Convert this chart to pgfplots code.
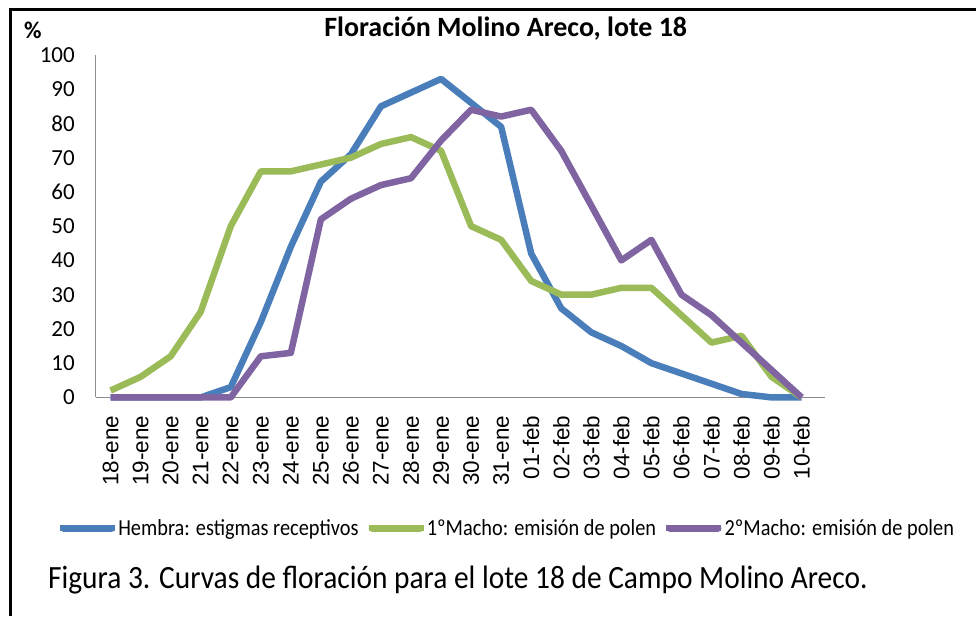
\documentclass[border=0pt]{standalone}
\usepackage{fontspec}
\setmainfont{Carlito}
\newfontfamily\arialfont{Liberation Sans}
\newfontfamily\condfont[FakeStretch=0.885]{Carlito}
\newfontfamily\capfont[FakeStretch=0.906]{Carlito}
\usepackage{pgfplots}
\pgfplotsset{compat=1.18}
\definecolor{cblue}{RGB}{74,126,187}
\definecolor{cgreen}{RGB}{155,187,89}
\definecolor{cpurple}{RGB}{128,100,162}
\definecolor{axgray}{RGB}{140,140,140}
\pgfplotstableread{
x hembra macho1 macho2
0 0 2 0
1 0 6 0
2 0 12 0
3 0 25 0
4 3 50 0
5 22 66 12
6 44 66 13
7 63 68 52
8 71 70 58
9 85 74 62
10 89 76 64
11 93 72 75
12 86 50 84
13 79 46 82
14 42 34 84
15 26 30 72
16 19 30 56
17 15 32 40
18 10 32 46
19 7 24 30
20 4 16 24
21 1 18 16
22 0 6 8
23 0 0 0
}\datatable
\begin{document}
\begin{tikzpicture}
\fill[white] (0pt,-617pt) rectangle (977pt,0pt);
\draw[line width=3pt, black] (10.6pt,-617pt) -- (10.6pt,-10pt) -- (977pt,-10pt);
\begin{axis}[
  at={(95.7pt,-398pt)}, anchor=south west,
  scale only axis, width=730.3pt, height=343pt,
  xmin=-0.5, xmax=23.77, ymin=0, ymax=100,
  clip=false,
  axis lines=left,
  axis line style={draw=axgray, line width=1pt, -},
  xtick={0,...,23},
  xticklabels={18-ene,19-ene,20-ene,21-ene,22-ene,23-ene,24-ene,25-ene,26-ene,27-ene,28-ene,29-ene,30-ene,31-ene,01-feb,02-feb,03-feb,04-feb,05-feb,06-feb,07-feb,08-feb,09-feb,10-feb},
  ytick={0,10,...,100},
  major tick length=0pt,
  tick style={draw=none},
  /pgf/number format/assume math mode=true,
  yticklabel style={font=\fontsize{23}{23}\selectfont, inner sep=0pt, anchor=east},
  yticklabel shift=20.7pt,
  xticklabel style={font=\arialfont\fontsize{22.5}{22.5}\selectfont, rotate=90, anchor=east, inner sep=0pt},
  xticklabel shift=18pt,
  legend columns=3,
  legend style={at={(-0.053,-0.3819)}, anchor=west, draw=none, fill=none,
    inner sep=0pt, outer sep=0pt,
    font=\condfont\fontsize{23}{23}\selectfont,
    nodes={inner sep=0pt},
    /tikz/every even column/.append style={column sep=7pt}},
  legend cell align=left,
  legend image code/.code={\path (0pt,0pt) -- (55pt,0pt);
    \draw[#1, line width=7pt, line cap=round] (3.5pt,0pt) -- (51.5pt,0pt);},
  every axis plot/.append style={line width=6.5pt, line join=round, mark=none},
]
\addplot[cblue] table[x=x, y=hembra] {\datatable};
\addlegendentry{Hembra: estigmas receptivos}
\addplot[cgreen] table[x=x, y=macho1] {\datatable};
\addlegendentry{1ºMacho: emisión de polen}
\addplot[cpurple] table[x=x, y=macho2] {\datatable};
\addlegendentry{2ºMacho: emisión de polen}
\end{axis}
\node[anchor=base, font=\bfseries\fontsize{28}{28}\selectfont] at (506.5pt,-37pt) {Floración Molino Areco, lote 18};
\node[anchor=base west, inner sep=0pt, font=\bfseries\fontsize{24}{24}\selectfont] at (24pt,-39pt) {\%};
\node[anchor=base west, inner sep=0pt, font=\capfont\fontsize{32.5}{32.5}\selectfont] at (48pt,-589pt) {Figura 3. Curvas de floración para el lote 18 de Campo Molino Areco.};
\useasboundingbox (0pt,-617pt) rectangle (977pt,0pt);
\end{tikzpicture}
\end{document}
